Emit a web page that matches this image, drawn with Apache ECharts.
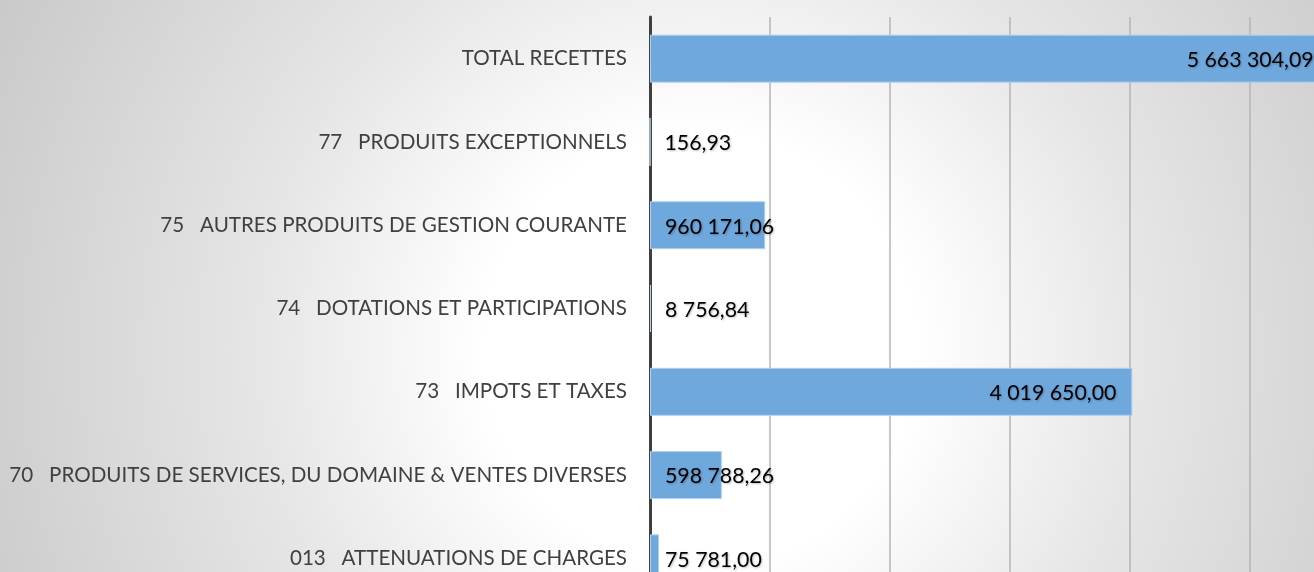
<!DOCTYPE html>
<html>
<head>
<meta charset="utf-8">
<script src="https://cdn.jsdelivr.net/npm/echarts@6/dist/echarts.min.js"></script>
<style>
html,body{margin:0;padding:0;}
#chart{width:1314px;height:572px;}
</style>
</head>
<body>
<div id="chart"></div>
<script>
const categories = [
  "013   ATTENUATIONS DE CHARGES",
  "70   PRODUITS DE SERVICES, DU DOMAINE & VENTES DIVERSES",
  "73   IMPOTS ET TAXES",
  "74   DOTATIONS ET PARTICIPATIONS",
  "75   AUTRES PRODUITS DE GESTION COURANTE",
  "77   PRODUITS EXCEPTIONNELS",
  "TOTAL RECETTES"
];
const values = [75781.00, 598788.26, 4019650.00, 8756.84, 960171.06, 156.93, 5663304.09];

function fmt(v) {
  const parts = v.toFixed(2).split('.');
  const intPart = parts[0].replace(/\B(?=(\d{3})+(?!\d))/g, ' ');
  return intPart + ',' + parts[1];
}

const labelBase = {
  show: true,
  color: '#000',
  fontFamily: 'Lato',
  fontSize: 21.3,
  offset: [0, 1.5],
  textShadowColor: 'rgba(0,0,0,0.25)',
  textShadowBlur: 2,
  textShadowOffsetX: 1,
  textShadowOffsetY: 1,
  formatter: p => fmt(p.value)
};

const seriesData = values.map(v => ({
  value: v,
  label: v > 2000000
    ? { position: 'insideRight', distance: 16 }
    : { position: 'insideLeft', distance: 15 }
}));

const chart = echarts.init(document.getElementById('chart'), null, { renderer: 'canvas' });
chart.setOption({
  animation: false,
  backgroundColor: {
    type: 'radial',
    x: 0.533, y: 0.612, r: 1.4,
    colorStops: [
      { offset: 0, color: '#ffffff' },
      { offset: 0.27, color: '#ffffff' },
      { offset: 0.55, color: '#e6e6e6' },
      { offset: 0.875, color: '#d0d0d0' },
      { offset: 1, color: '#c8c8c8' }
    ]
  },
  grid: { left: 650, width: 720, top: 17, height: 583, containLabel: false, outerBoundsMode: 'none' },
  xAxis: {
    type: 'value',
    min: 0,
    max: 6000000,
    interval: 1000000,
    axisLabel: { show: false },
    axisLine: { show: false },
    axisTick: { show: false },
    splitLine: { show: true, lineStyle: { color: '#b4b4b4', width: 1.5 } }
  },
  yAxis: {
    type: 'category',
    data: categories,
    axisTick: { show: false },
    axisLine: { show: true, lineStyle: { color: '#404040', width: 3 } },
    axisLabel: {
      color: '#404040',
      fontFamily: 'Lato',
      fontSize: 20.6,
      margin: 23,
      padding: [4, 0, 0, 0]
    },
    splitLine: { show: false }
  },
  series: [{
    type: 'bar',
    data: seriesData,
    barWidth: 48,
    itemStyle: {
      color: '#6fa8dc',
      borderColor: '#b3d0ee',
      borderWidth: 1
    },
    label: labelBase
  }]
});
</script>
</body>
</html>
